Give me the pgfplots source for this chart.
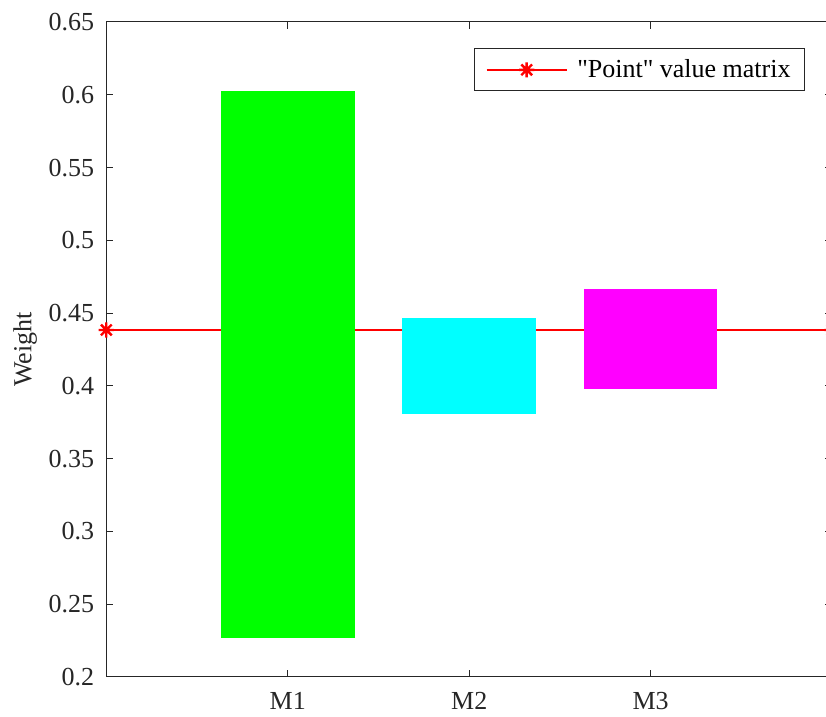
\documentclass[border=0pt]{standalone}
\usepackage{fontspec}
\setmainfont{Liberation Serif}[Ligatures=TeXOff]
\usepackage{pgfplots}
\pgfplotsset{compat=1.18}
\usetikzlibrary{calc}

\definecolor{axgray}{rgb}{0.15,0.15,0.15}
\definecolor{refred}{rgb}{1,0,0}

% eight-spoke asterisk marker
\pgfdeclareplotmark{mstar}{%
  \pgfpathmoveto{\pgfqpoint{0pt}{\pgfplotmarksize}}%
  \pgfpathlineto{\pgfqpoint{0pt}{-\pgfplotmarksize}}%
  \pgfpathmoveto{\pgfqpoint{\pgfplotmarksize}{0pt}}%
  \pgfpathlineto{\pgfqpoint{-\pgfplotmarksize}{0pt}}%
  \pgfpathmoveto{\pgfqpoint{0.7071\pgfplotmarksize}{0.7071\pgfplotmarksize}}%
  \pgfpathlineto{\pgfqpoint{-0.7071\pgfplotmarksize}{-0.7071\pgfplotmarksize}}%
  \pgfpathmoveto{\pgfqpoint{-0.7071\pgfplotmarksize}{0.7071\pgfplotmarksize}}%
  \pgfpathlineto{\pgfqpoint{0.7071\pgfplotmarksize}{-0.7071\pgfplotmarksize}}%
  \pgfusepathqstroke}

\begin{document}
\begin{tikzpicture}
\begin{axis}[
  name=ax,
  scale only axis,
  width=362.9pt, height=327.5pt,
  xmin=0, xmax=4, ymin=0.2, ymax=0.65,
  clip=false,
  axis line style={axgray, line width=0.5pt},
  every tick/.style={axgray, line width=0.5pt},
  tick align=inside,
  major tick length=3.5pt,
  tick pos=both,
  ticklabel pos=left,
  xtick={1,2,3},
  xticklabels={M1,M2,M3},
  ytick={0.2,0.25,...,0.66},
  yticklabel style={/pgf/number format/fixed, /pgf/number format/precision=2, xshift=-2.5pt},
  xticklabel style={yshift=-4pt},
  tick label style={font=\fontsize{13}{15}\selectfont, text=axgray},
  /pgf/number format/assume math mode=true,
  ylabel={Weight},
  ylabel style={at={(axis description cs:-0.1286,0.5)}, anchor=north, rotate=0, inner sep=0pt,
    font=\fontsize{13}{15}\selectfont, text=axgray},
  legend style={at={(axis description cs:0.9628,0.9598)}, anchor=north east,
    draw=axgray, line width=0.5pt, fill=white,
    inner xsep=5.5pt, inner ysep=3.25pt,
    font=\fontsize{13}{15}\selectfont,
    nodes={inner xsep=1.5pt, inner ysep=2pt}},
  legend cell align=left,
  legend image code/.code={%
    \path[draw=refred, line width=0.7pt] (0pt,0pt) -- (40pt,0pt);
    \path[draw=refred, line width=1.2pt] (20pt,-3.8pt) -- (20pt,3.8pt)
      (16.2pt,0pt) -- (23.8pt,0pt)
      (17.31pt,-2.69pt) -- (22.69pt,2.69pt)
      (17.31pt,2.69pt) -- (22.69pt,-2.69pt);
    \path (43.5pt,0pt);},
]
% reference value line
\addplot[refred, line width=0.6pt, mark=mstar, mark size=3.8pt,
  mark options={line width=1.2pt, solid}] coordinates {(0,0.4384) (4,0.4384)};
\addlegendentry{"Point" value matrix}

% floating bars: (left,low) (right,low) (right,high) (left,high)
\addplot[fill={rgb,1:red,0;green,1;blue,0}, draw=none, forget plot]
  coordinates {(0.632,0.2270) (1.368,0.2270) (1.368,0.6026) (0.632,0.6026)};
\addplot[fill={rgb,1:red,0;green,1;blue,1}, draw=none, forget plot]
  coordinates {(1.632,0.3807) (2.368,0.3807) (2.368,0.4466) (1.632,0.4466)};
\addplot[fill={rgb,1:red,1;green,0;blue,1}, draw=none, forget plot]
  coordinates {(2.632,0.3979) (3.368,0.3979) (3.368,0.4666) (2.632,0.4666)};
\end{axis}
\pgfresetboundingbox
\useasboundingbox ($(ax.south west)+(-53.15pt,-20pt)$) rectangle ($(ax.south west)+(359.85pt,338.5pt)$);
\end{tikzpicture}
\end{document}
